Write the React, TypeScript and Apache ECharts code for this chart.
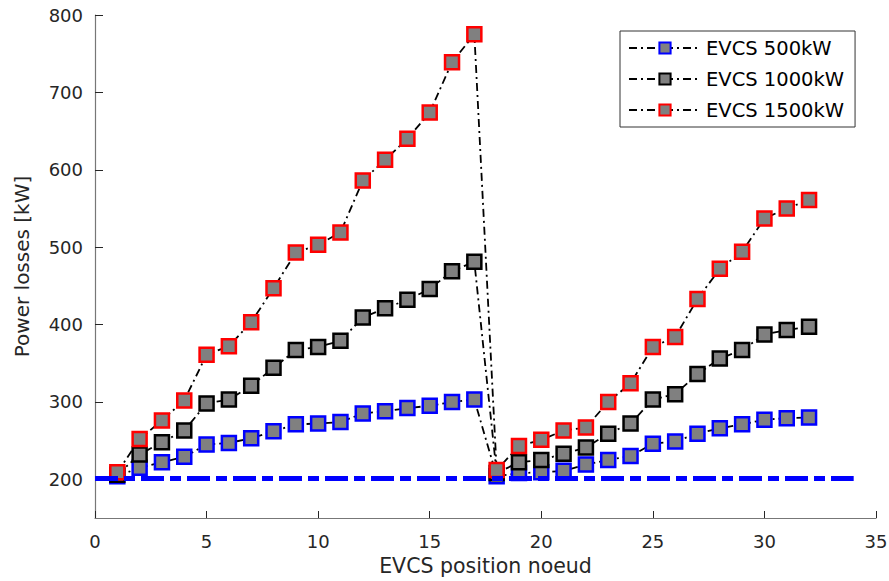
import React, { useEffect, useRef } from "react";
import * as echarts from "echarts";

const positions = [1, 2, 3, 4, 5, 6, 7, 8, 9, 10, 11, 12, 13, 14, 15, 16, 17, 18, 19, 20, 21, 22, 23, 24, 25, 26, 27, 28, 29, 30, 31, 32];
const evcs500 = [204, 215, 222, 229, 245, 247, 253, 262, 271, 272, 274, 285, 288, 292, 295, 300, 303, 204, 208, 209, 211, 219, 225, 230, 246, 249, 259, 266, 271, 277, 279, 280];
const evcs1000 = [206, 232, 248, 263, 298, 303, 321, 344, 367, 371, 379, 409, 421, 432, 446, 469, 481, 208, 222, 225, 233, 241, 259, 272, 303, 310, 336, 356, 367, 387, 393, 397];
const evcs1500 = [209, 252, 276, 302, 361, 372, 403, 447, 493, 503, 519, 586, 613, 640, 674, 739, 775, 212, 243, 251, 263, 267, 300, 324, 371, 384, 433, 472, 494, 537, 550, 561];
const baseLineX = [0, 34];
const baseLineValue = 201;
const yTicks = [200, 300, 400, 500, 600, 700, 800];
const seriesNames = ["EVCS 500kW", "EVCS 1000kW", "EVCS 1500kW"];

const FONT = "'DejaVu Sans', Verdana, sans-serif";

export default function App() {
  const ref = useRef<HTMLDivElement>(null);
  useEffect(() => {
    if (!ref.current) return;
    const chart = echarts.init(ref.current, null, { renderer: "svg" });
    const mk = (name: string, vals: number[], border: string, z: number) => ({
      name,
      type: "line",
      data: positions.map((x, i) => [x, vals[i]]),
      symbol: "rect",
      symbolSize: 14,
      z,
      lineStyle: { color: "#000", width: 1.8, type: [8, 4, 2, 4] },
      itemStyle: { color: "#808080", borderColor: border, borderWidth: 2.5 },
    });
    chart.setOption({
      animation: false,
      backgroundColor: "#fff",
      grid: { left: 95, right: 13, top: 15, bottom: 63, containLabel: false, outerBoundsMode: "none" },
      legend: {
        data: seriesNames,
        orient: "vertical",
        left: 620,
        top: 31,
        padding: [7, 11, 7, 8],
        itemGap: 11,
        itemWidth: 72,
        itemHeight: 14,
        borderColor: "#333",
        borderWidth: 1,
        backgroundColor: "#fff",
        textStyle: { fontFamily: FONT, fontSize: 19.5, color: "#000" },
      },
      xAxis: {
        type: "value",
        min: 0,
        max: 35,
        interval: 5,
        name: "EVCS position noeud",
        nameLocation: "middle",
        nameGap: 37,
        nameTextStyle: { fontFamily: FONT, fontSize: 20.5, color: "#262626" },
        axisLine: { lineStyle: { color: "#777", width: 1.2 } },
        axisTick: { inside: true, length: 7, lineStyle: { color: "#262626" } },
        axisLabel: { fontFamily: FONT, fontSize: 18, color: "#262626", margin: 14 },
        splitLine: { show: false },
      },
      yAxis: {
        type: "value",
        min: 150,
        max: 800,
        name: "Power losses [kW]",
        nameLocation: "middle",
        nameGap: 63,
        nameTextStyle: { fontFamily: FONT, fontSize: 20, color: "#262626" },
        axisLine: { show: true, lineStyle: { color: "#777", width: 1.2 } },
        axisTick: { show: true, inside: true, length: 8, customValues: yTicks, lineStyle: { color: "#262626" } },
        axisLabel: { fontFamily: FONT, fontSize: 18, color: "#262626", margin: 12, customValues: yTicks },
        splitLine: { show: false },
      },
      series: [
        mk(seriesNames[0], evcs500, "#0000ff", 2),
        mk(seriesNames[1], evcs1000, "#000000", 3),
        mk(seriesNames[2], evcs1500, "#ff0000", 4),
        {
          name: "base",
          type: "line",
          data: baseLineX.map((x) => [x, baseLineValue]),
          symbol: "none",
          silent: true,
          z: 5,
          lineStyle: { color: "#0000ff", width: 5, type: [23, 6, 11, 6] },
        },
      ],
    });
    return () => chart.dispose();
  }, []);
  return (
    <div
      ref={ref}
      style={{ position: "fixed", left: 0, top: 0, width: 889, height: 581, background: "#fff" }}
    />
  );
}
